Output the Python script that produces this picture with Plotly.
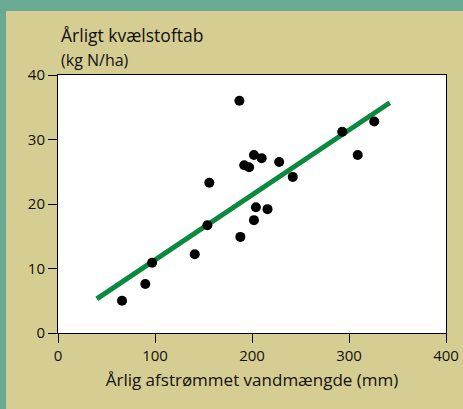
import plotly.graph_objects as go

# Data
afstroemning = [66, 90, 97, 141, 154, 156, 187, 188, 192, 197, 202, 210,
                204, 202, 216, 228, 242, 293, 309, 326]
kvaelstoftab = [5.0, 7.6, 10.9, 12.2, 16.7, 23.3, 36.0, 14.9, 26.0, 25.7,
                27.6, 27.1, 19.5, 17.5, 19.2, 26.5, 24.2, 31.2, 27.6, 32.8]
linje_x = [40, 342]
linje_y = [5.3, 35.7]

x_ticks = [0, 100, 200, 300, 400]
y_ticks = [0, 10, 20, 30, 40]

FONT = 'Open Sans'
BEIGE = '#d6cd92'
TEAL = '#69aa92'
GROEN = '#0b8a3f'

W, H = 463, 409
ML, MR, MT, MB = 58, 17, 75, 76
pw, ph = W - ML - MR, H - MT - MB


def px_x(p):
    return (p - ML) / pw


def px_y(p):
    return (H - MB - p) / ph


fig = go.Figure()

fig.add_trace(go.Scatter(
    x=linje_x, y=linje_y, mode='lines',
    line=dict(color=GROEN, width=5), hoverinfo='skip'
))

fig.add_trace(go.Scatter(
    x=afstroemning, y=kvaelstoftab, mode='markers',
    marker=dict(color='black', size=10)
))

fig.update_layout(
    width=W, height=H,
    margin=dict(l=ML, r=MR, t=MT, b=MB, autoexpand=False),
    paper_bgcolor=BEIGE,
    plot_bgcolor='white',
    showlegend=False,
    font=dict(family=FONT, color='#111111', size=15),
    shapes=[
        dict(type='rect', xref='paper', yref='paper', layer='below',
             x0=px_x(0), x1=px_x(W), y0=px_y(11), y1=px_y(0),
             fillcolor=TEAL, line=dict(width=0)),
        dict(type='rect', xref='paper', yref='paper', layer='below',
             x0=px_x(0), x1=px_x(6), y0=px_y(H), y1=px_y(0),
             fillcolor=TEAL, line=dict(width=0)),
    ],
    annotations=[
        dict(text='Årligt kvælstoftab', xref='paper', yref='paper',
             x=px_x(59), y=px_y(35), xanchor='left', yanchor='middle',
             showarrow=False, font=dict(size=17.5)),
        dict(text='(kg N/ha)', xref='paper', yref='paper',
             x=px_x(59), y=px_y(60), xanchor='left', yanchor='middle',
             showarrow=False, font=dict(size=16)),
    ],
)

fig.update_xaxes(
    range=[0, 400], tickvals=x_ticks, ticks='outside', ticklen=9,
    tickcolor='black', showline=True, linecolor='black', linewidth=1,
    mirror=True, showgrid=False, zeroline=False, automargin=False,
    title=dict(text='Årlig afstrømmet vandmængde (mm)', font=dict(size=17),
               standoff=10)
)
fig.update_yaxes(
    range=[0, 40], tickvals=y_ticks, ticks='outside', ticklen=9,
    tickcolor='black', showline=True, linecolor='black', linewidth=1,
    mirror=True, showgrid=False, zeroline=False, automargin=False
)

fig.write_html('out.html', config={'displayModeBar': False},
               post_script="document.body.style.margin='0';"
                           "document.body.style.overflow='hidden';")
